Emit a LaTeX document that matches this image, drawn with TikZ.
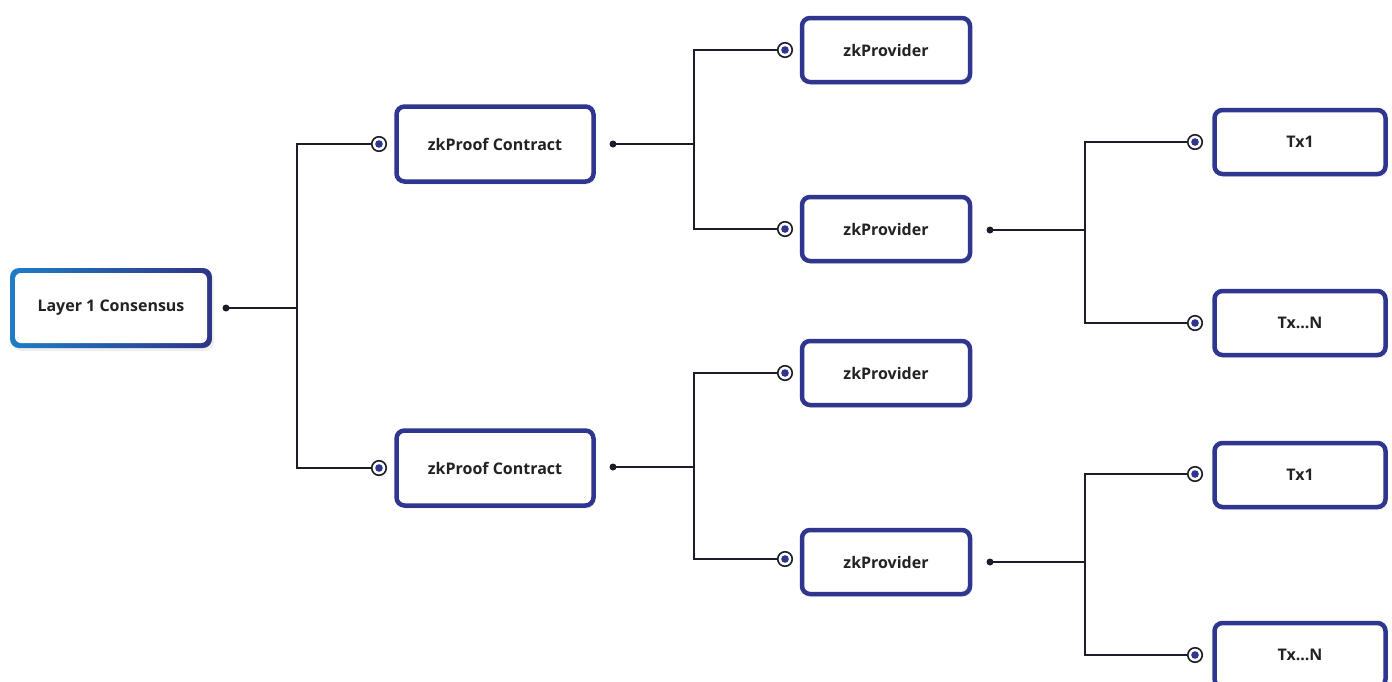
\documentclass[tikz,border=0pt]{standalone}
\usepackage{fontspec}
\setmainfont{Open Sans}
\usetikzlibrary{shadows}
\definecolor{navy}{HTML}{2E3690}
\definecolor{ink}{HTML}{1C1C2A}
\definecolor{lblue}{HTML}{1E7DC5}
\definecolor{dblue}{HTML}{2E3585}
\definecolor{txt}{HTML}{222226}
\tikzset{
  box/.style={rounded corners=8pt,draw=navy,line width=4.5pt,fill=white,
    drop shadow={opacity=.12,shadow xshift=2pt,shadow yshift=-3pt},
    font=\bfseries\fontsize{16}{19}\selectfont,text=txt,align=center},
  bigbox/.style={box,minimum width=197pt,minimum height=75pt},
  provbox/.style={box,minimum width=168pt,minimum height=64pt},
  txbox/.style={box,minimum width=171pt,minimum height=64pt},
  srcdot/.style={circle,fill=ink,inner sep=0pt,minimum size=7pt},
  port/.style={circle,draw=ink,line width=1.6pt,fill=white,inner sep=0pt,minimum size=14.5pt,
    path picture={\fill[navy] (path picture bounding box.center) circle (3.8pt);}},
  conn/.style={draw=ink,line width=1.6pt}
}
\begin{document}
\begin{tikzpicture}[x=1pt,y=-1pt]
  \useasboundingbox[fill=white] (0,0) rectangle (1392,681);
  % root box, gradient frame
  \node[rounded corners=9pt,minimum width=202pt,minimum height=80pt,
    left color=lblue,right color=dblue,
    drop shadow={opacity=.12,shadow xshift=2pt,shadow yshift=-3pt},
    font=\bfseries\fontsize{16}{19}\selectfont,text=txt,
    path picture={\fill[white,rounded corners=6pt]
      ([shift={(5pt,5pt)}]path picture bounding box.south west) rectangle
      ([shift={(-5pt,-5pt)}]path picture bounding box.north east);}]
    (l1) at (111,308) {Layer 1 Consensus};
  \node[bigbox] (pc1) at (495,144) {zkProof Contract};
  \node[bigbox] (pc2) at (495,468) {zkProof Contract};
  \node[provbox] (pv1) at (886,50) {zkProvider};
  \node[provbox] (pv2) at (886,229) {zkProvider};
  \node[provbox] (pv3) at (886,373) {zkProvider};
  \node[provbox] (pv4) at (886,562) {zkProvider};
  \node[txbox] (tx1) at (1300,142) {Tx1};
  \node[txbox] (txn) at (1300,323) {Tx...N};
  \node[txbox] (tx2) at (1300,475) {Tx1};
  \node[txbox] (txm) at (1300,655) {Tx...N};
  % bus columns
  \coordinate (b1) at (297,308);
  \coordinate (b2) at (694,144);
  \coordinate (b3) at (694,467);
  \coordinate (b4) at (1085,230);
  \coordinate (b5) at (1085,562);
  % out dots
  \node[srcdot] (d1) at (226,308) {};
  \node[srcdot] (d2) at (613,144) {};
  \node[srcdot] (d3) at (613,467) {};
  \node[srcdot] (d4) at (990,230) {};
  \node[srcdot] (d5) at (990,562) {};
  % in ports
  \node[port] (p1) at (379,144) {};
  \node[port] (p2) at (379,468) {};
  \node[port] (p3) at (785,50) {};
  \node[port] (p4) at (785,229) {};
  \node[port] (p5) at (785,373) {};
  \node[port] (p6) at (785,559) {};
  \node[port] (p7) at (1195,142) {};
  \node[port] (p8) at (1195,323) {};
  \node[port] (p9) at (1195,474) {};
  \node[port] (p10) at (1195,655) {};
  \draw[conn] (d1.center) -- (b1) |- (p1.west) (b1) |- (p2.west);
  \draw[conn] (d2.center) -- (b2) |- (p3.west) (b2) |- (p4.west);
  \draw[conn] (d3.center) -- (b3) |- (p5.west) (b3) |- (p6.west);
  \draw[conn] (d4.center) -- (b4) |- (p7.west) (b4) |- (p8.west);
  \draw[conn] (d5.center) -- (b5) |- (p9.west) (b5) |- (p10.west);
\end{tikzpicture}
\end{document}
